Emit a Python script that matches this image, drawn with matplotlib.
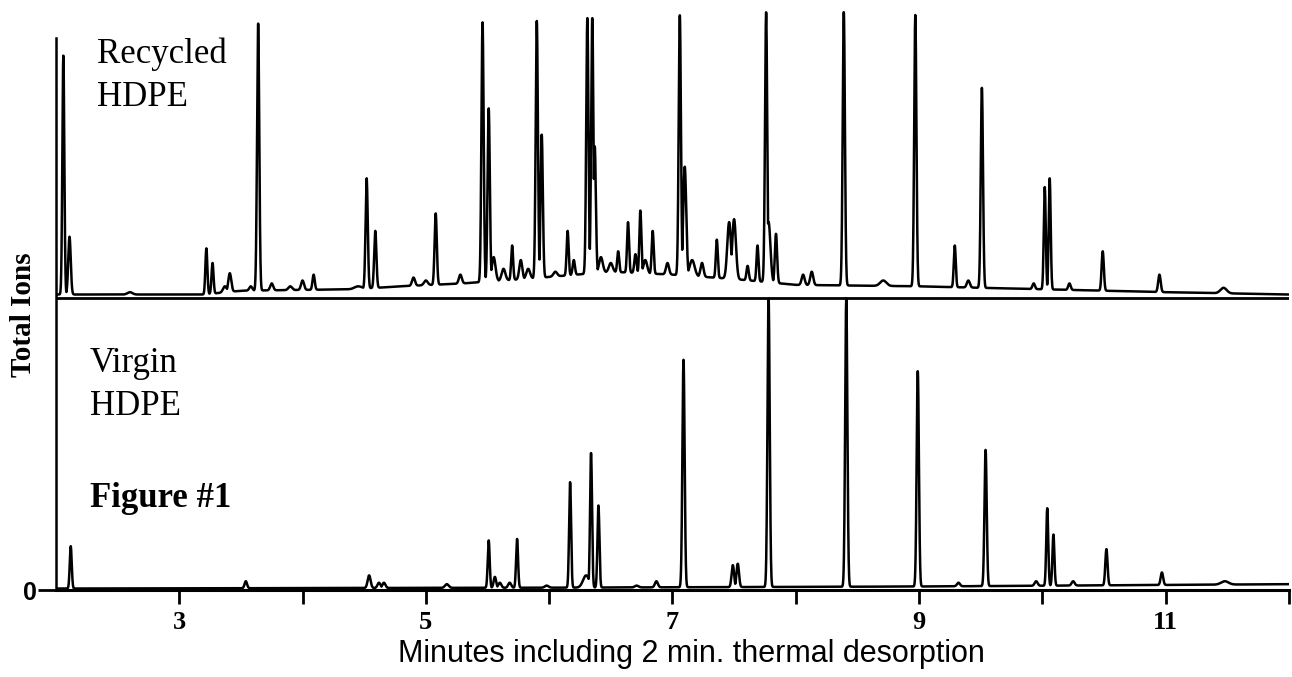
"""Total-ion chromatograms of recycled vs. virgin HDPE (Figure #1)."""
import numpy as np
import matplotlib
matplotlib.use("Agg")
import matplotlib.pyplot as plt
from matplotlib.ticker import FixedLocator

# retention time (min), apex height above the panel baseline (fraction of one panel),
# peak width (sigma, min)
recycled_rt = [2.06, 2.11, 2.6, 3.22, 3.27, 3.37, 3.41, 3.58, 3.64, 3.75, 3.9, 4.0,
               4.09, 4.45, 4.52, 4.59, 4.9, 5.0, 5.08, 5.28, 5.46, 5.51, 5.55, 5.63,
               5.70, 5.77, 5.83, 5.90, 5.94, 6.05, 6.15, 6.20, 6.31, 6.35, 6.37, 6.42,
               6.5, 6.56, 6.64, 6.70, 6.74, 6.78, 6.84, 6.96, 7.06, 7.10, 7.16, 7.24,
               7.36, 7.46, 7.50, 7.61, 7.69, 7.76, 7.78, 7.84, 8.06, 8.13, 8.39, 8.71,
               8.97, 9.29, 9.40, 9.51, 9.93, 10.02, 10.06, 10.22, 10.49, 10.95, 11.47]
recycled_h = [0.83, 0.21, 0.02, 0.17, 0.12, 0.04, 0.085, 0.04, 0.94, 0.05, 0.04, 0.06,
              0.08, 0.04, 0.41, 0.23, 0.07, 0.06, 0.29, 0.08, 0.945, 0.65, 0.14, 0.1,
              0.18, 0.13, 0.1, 0.95, 0.56, 0.09, 0.23, 0.13, 0.96, 0.96, 0.52, 0.14,
              0.12, 0.16, 0.26, 0.15, 0.30, 0.13, 0.23, 0.12, 0.97, 0.45, 0.13, 0.12,
              0.2, 0.26, 0.27, 0.11, 0.18, 0.98, 0.26, 0.22, 0.08, 0.09, 0.98, 0.06,
              0.97, 0.18, 0.06, 0.72, 0.05, 0.38, 0.41, 0.05, 0.16, 0.08, 0.035]
recycled_w = [0.008, 0.010, 0.02, 0.008, 0.008, 0.015, 0.012, 0.012, 0.009, 0.012, 0.015, 0.012,
              0.009, 0.03, 0.009, 0.009, 0.012, 0.015, 0.009, 0.012, 0.009, 0.009, 0.015, 0.015,
              0.008, 0.012, 0.015, 0.009, 0.009, 0.015, 0.008, 0.009, 0.009, 0.009, 0.009, 0.015,
              0.015, 0.008, 0.008, 0.009, 0.008, 0.015, 0.008, 0.012, 0.009, 0.012, 0.02, 0.012,
              0.008, 0.015, 0.015, 0.009, 0.008, 0.009, 0.015, 0.009, 0.012, 0.012, 0.009, 0.025,
              0.009, 0.008, 0.012, 0.009, 0.010, 0.008, 0.008, 0.010, 0.009, 0.010, 0.025]

virgin_rt = [2.12, 3.54, 4.54, 4.62, 4.66, 5.17, 5.51, 5.56, 5.60, 5.68, 5.74, 5.98,
             6.17, 6.30, 6.34, 6.40, 6.71, 6.87, 7.09, 7.49, 7.53, 7.78, 8.41, 8.99,
             9.32, 9.54, 9.95, 10.04, 10.09, 10.25, 10.52, 10.97, 11.48]
virgin_h = [0.15, 0.03, 0.05, 0.025, 0.025, 0.02, 0.17, 0.045, 0.025, 0.025, 0.175, 0.015,
            0.37, 0.05, 0.47, 0.29, 0.015, 0.03, 0.79, 0.085, 0.09, 1.0, 1.0, 0.75,
            0.025, 0.48, 0.03, 0.28, 0.19, 0.03, 0.14, 0.06, 0.03]
virgin_w = [0.008, 0.010, 0.012, 0.012, 0.012, 0.015, 0.008, 0.010, 0.012, 0.012, 0.008, 0.015,
            0.008, 0.025, 0.008, 0.008, 0.015, 0.012, 0.009, 0.010, 0.010, 0.009, 0.009, 0.009,
            0.012, 0.009, 0.012, 0.008, 0.008, 0.012, 0.009, 0.010, 0.03]

# slowly varying background under each trace: (time, level)
recycled_bg_t = [2.0, 3.2, 3.5, 4.4, 4.8, 5.3, 5.8, 6.5, 7.0, 7.5, 8.0, 9.0, 10.0, 11.0, 12.0]
recycled_bg_v = [0.012, 0.012, 0.025, 0.03, 0.04, 0.05, 0.065, 0.09, 0.08, 0.065, 0.045,
                 0.04, 0.03, 0.02, 0.012]
virgin_bg_t = [2.0, 6.0, 9.0, 12.0]
virgin_bg_v = [0.005, 0.008, 0.012, 0.02]

major_ticks = [3, 5, 7, 9, 11]
minor_ticks = [4, 6, 8, 10, 12]


def trace(t, rts, hs, ws, bg_t, bg_v):
    bg = np.interp(t, bg_t, bg_v)
    peaks = np.zeros_like(t)
    for rt, h, w in zip(rts, hs, ws):
        amp = max(h - np.interp(rt, bg_t, bg_v), 0.0)
        peaks = np.maximum(peaks, amp * np.exp(-0.5 * ((t - rt) / w) ** 2))
    return bg + peaks


t = np.linspace(2.0, 12.0, 8000)
y_virgin = trace(t, virgin_rt, virgin_h, virgin_w, virgin_bg_t, virgin_bg_v)
y_recycled = 1.0 + trace(t, recycled_rt, recycled_h, recycled_w, recycled_bg_t, recycled_bg_v)

fig = plt.figure(figsize=(12.92, 6.77), dpi=100)
ax = fig.add_axes([0.0433, 0.1285, 0.9543, 0.8626])

ax.plot(t, y_virgin, color="black", lw=1.8)
ax.plot(t, y_recycled, color="black", lw=1.8)
# baseline of the upper panel
ax.plot([2.0, 12.0], [1.0, 1.0], color="black", lw=2.0)

ax.set_xlim(2.0, 12.0)
ax.set_ylim(0, 2.0)

for side in ("top", "right"):
    ax.spines[side].set_visible(False)
ax.spines["left"].set_bounds(0, 1.89)
ax.spines["left"].set_linewidth(1.8)
ax.spines["bottom"].set_linewidth(2.2)

ax.xaxis.set_major_locator(FixedLocator(major_ticks))
ax.xaxis.set_minor_locator(FixedLocator(minor_ticks))
ax.set_xticklabels([str(v) for v in major_ticks], fontfamily="Liberation Serif",
                   fontweight="bold", fontsize=19)
ax.tick_params(axis="x", which="both", direction="out", length=10, width=2, pad=5)
ax.set_yticks([0])
ax.set_yticklabels(["0"], fontfamily="Liberation Sans", fontweight="bold", fontsize=18)
ax.tick_params(axis="y", direction="out", length=13, width=2, pad=1)

serif = "Liberation Serif"
H = 677.0
fig.text(97 / 1292, 1 - 63 / H, "Recycled", fontfamily=serif, fontsize=25, va="baseline")
fig.text(97 / 1292, 1 - 106 / H, "HDPE", fontfamily=serif, fontsize=25, va="baseline")
fig.text(90 / 1292, 1 - 372 / H, "Virgin", fontfamily=serif, fontsize=25, va="baseline")
fig.text(90 / 1292, 1 - 415 / H, "HDPE", fontfamily=serif, fontsize=25, va="baseline")
fig.text(90 / 1292, 1 - 507 / H, "Figure #1", fontfamily=serif, fontsize=25,
         fontweight="bold", va="baseline")
fig.text(24 / 1292, 1 - 315 / H, "Total Ions", fontfamily=serif, fontsize=21,
         fontweight="bold", rotation=90, ha="center", va="center")
fig.text(691 / 1292, 1 - 662 / H, "Minutes including 2 min. thermal desorption",
         fontfamily="Liberation Sans", fontsize=22, ha="center", va="baseline")

fig.savefig("out.png", dpi=100)
